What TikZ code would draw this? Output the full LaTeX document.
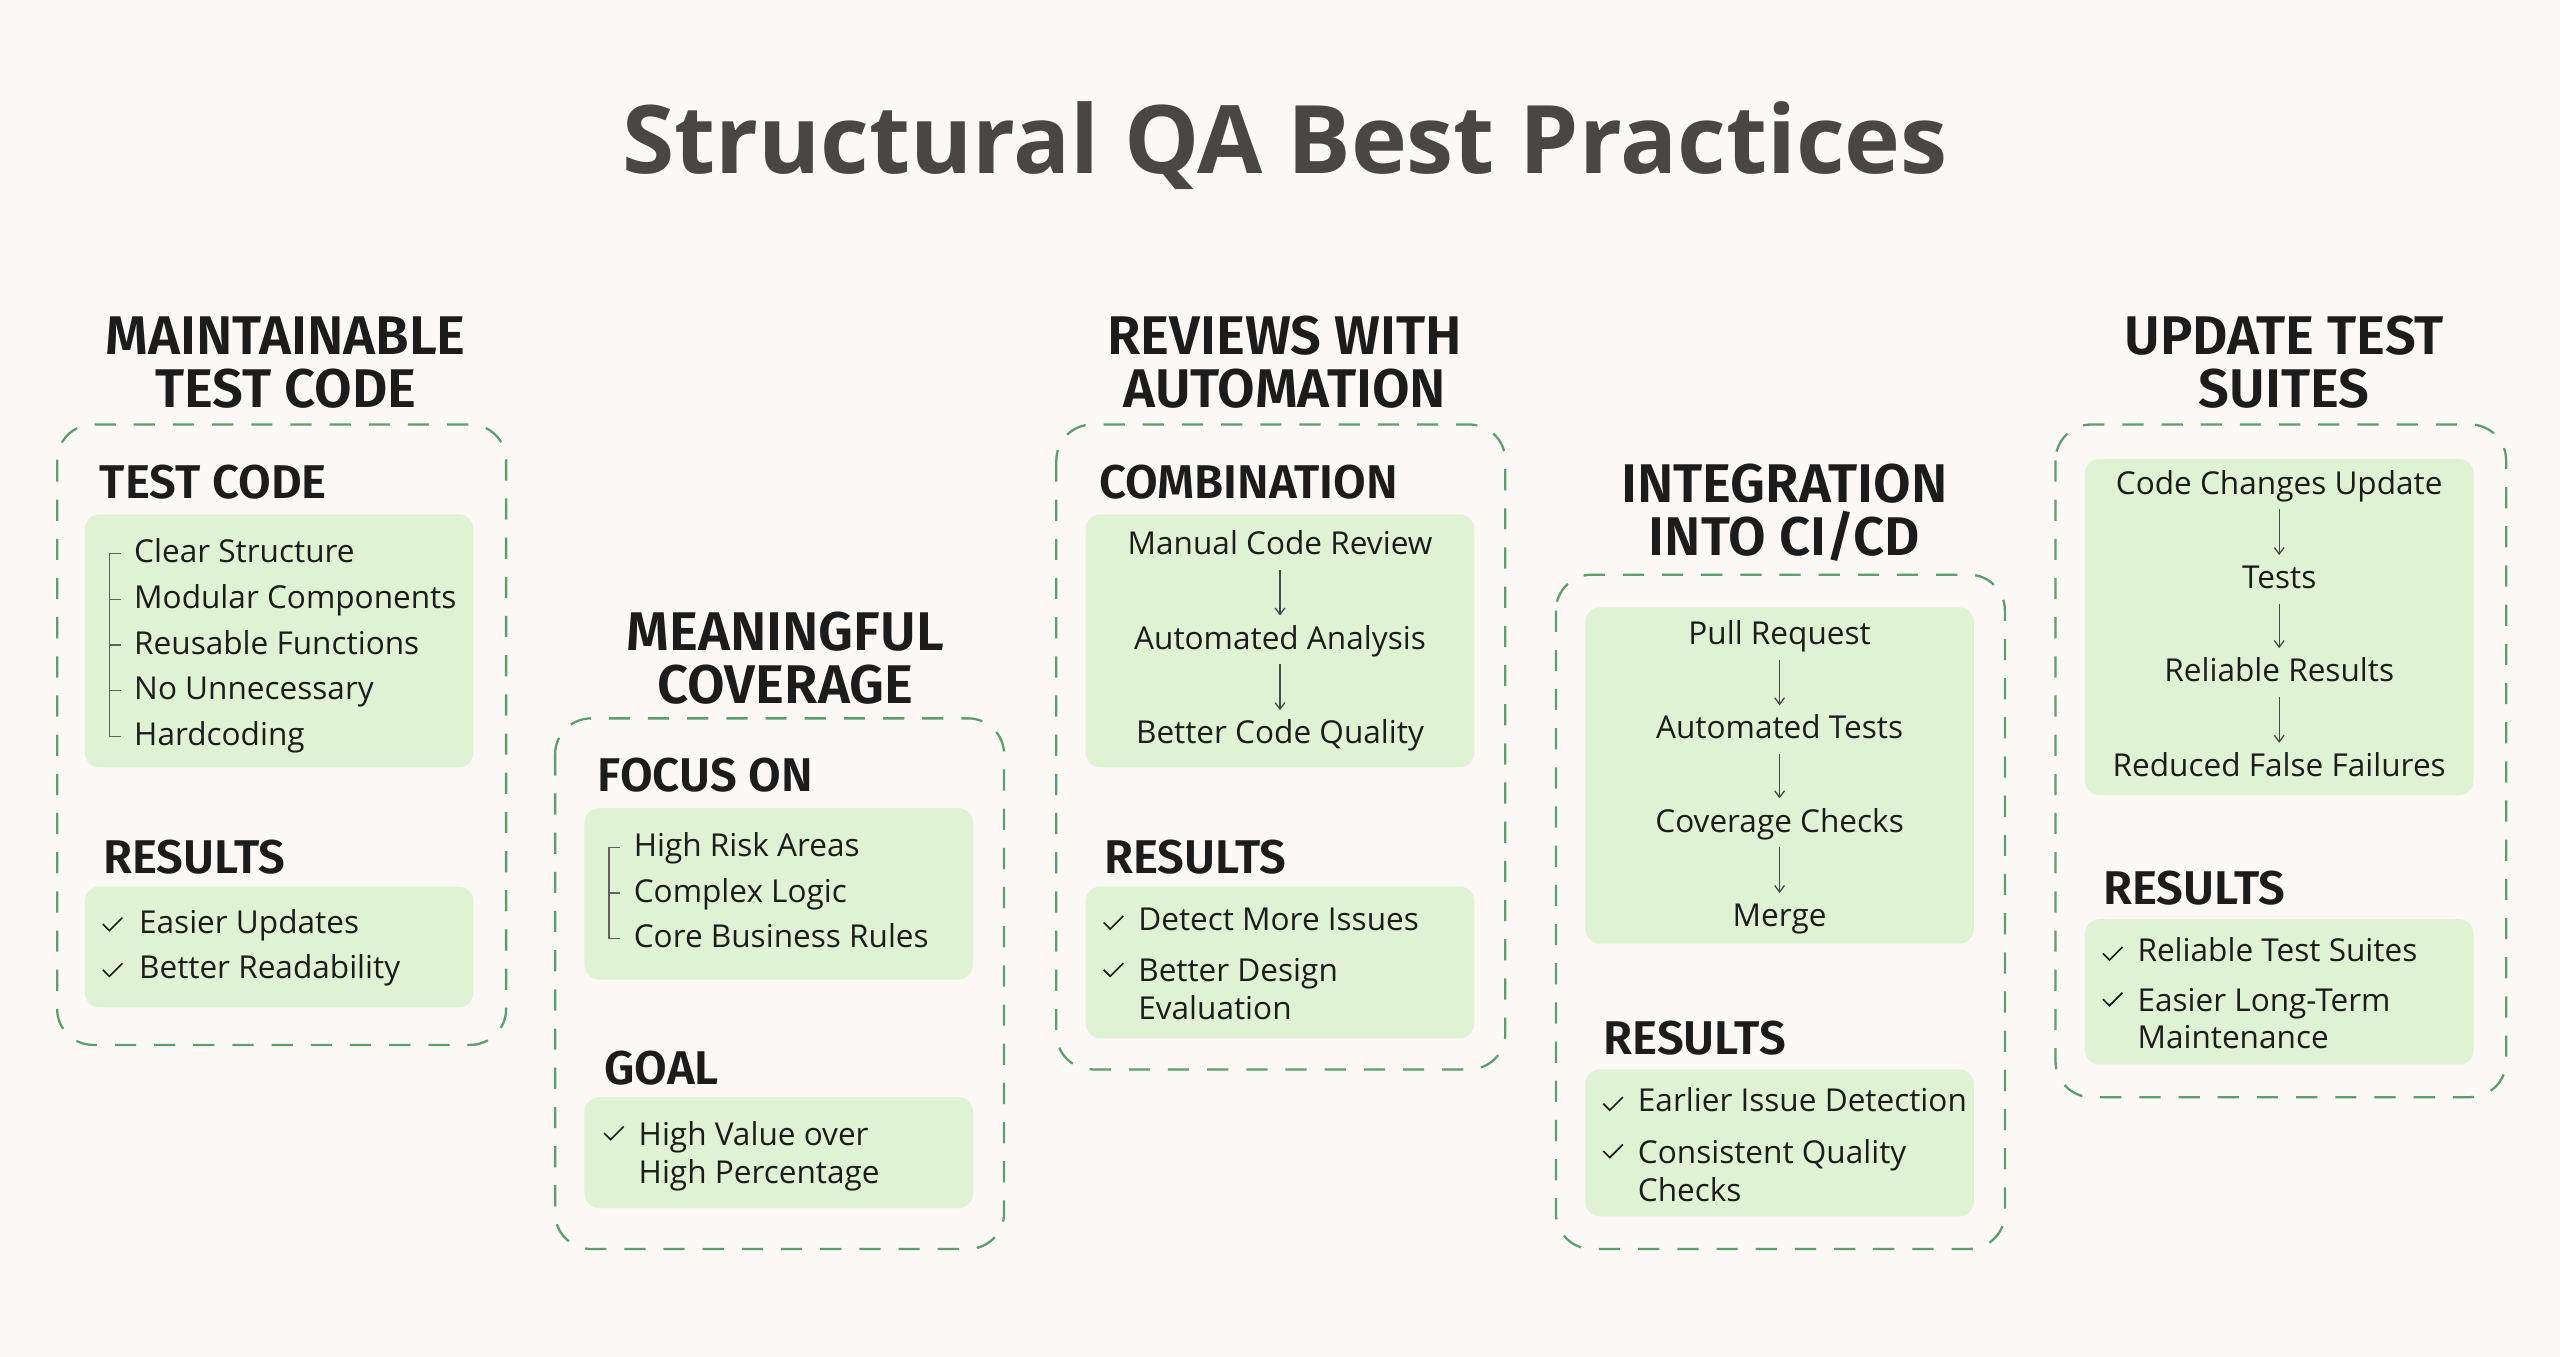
\documentclass[tikz,border=0pt]{standalone}
\usepackage{fontspec}
\setmainfont{Open Sans}
\newfontfamily\headfont{Fira Sans}[UprightFont=* SemiBold]
\usetikzlibrary{arrows.meta}
\definecolor{bg}{HTML}{FBF8F6}
\definecolor{gfill}{HTML}{DFF3D4}
\definecolor{dash}{HTML}{5E9E6C}
\definecolor{ink}{HTML}{1C1C1C}
\definecolor{ttl}{HTML}{4A4646}
\tikzset{
 dbox/.style={draw=dash,line width=0.028cm,dash pattern=on 0.26cm off 0.22cm,rounded corners=0.44cm},
 gbox/.style={fill=gfill,rounded corners=0.18cm},
 head/.style={font=\headfont\fontsize{19}{18.5}\selectfont,text=ink,align=center},
 sub/.style={font=\headfont\fontsize{16.5}{18}\selectfont,text=ink,anchor=west},
 item/.style={font=\fontsize{11}{13}\selectfont,text=ink,anchor=west,align=left},
 one/.style={text height=0.82em,text depth=0.18em},
 flow/.style={font=\fontsize{11}{13}\selectfont,text=ink,anchor=center,one},
 arr/.style={-{Straight Barb[length=0.08cm,width=0.12cm]},draw=ink!80,line width=0.016cm},
 chk/.style={draw=ink,line width=0.02cm},
 tree/.style={draw=ink!70,line width=0.016cm}
}
\newcommand{\ck}[2]{\draw[chk] (#1-6,#2) -- (#1-2,#2+4) -- (#1+6,#2-4);}
\begin{document}
\begin{tikzpicture}[x=0.02cm,y=-0.02cm]
\fill[bg] (0,0) rectangle (1568,831);
\useasboundingbox (0,0) rectangle (1568,831);
\node[font=\bfseries\fontsize{33}{36}\selectfont,text=ttl] (title) at (787,89) {Structural QA Best Practices};
% column 1
\draw[dbox] (35,260) rectangle (310,640);
\node[head] (h1) at (175,222) {MAINTAINABLE\\TEST CODE};
\node[sub] (s1) at (55,295) {TEST CODE};
\fill[gbox] (52,315) rectangle (290,470);
\foreach \t [count=\i] in {Clear Structure,Modular Components,Reusable Functions,No Unnecessary,Hardcoding}
 {\node[item,one] (c1i\i) at (76,311+28*\i) {\t}; \draw[tree] (67,311+28*\i) -- (74,311+28*\i);}
\draw[tree] (67,339) -- (67,451);
\node[sub] (r1) at (57,525) {RESULTS};
\fill[gbox] (52,543) rectangle (290,617);
\ck{69}{566}\node[item,one] (c1r1) at (79,566) {Easier Updates};
\ck{69}{594}\node[item,one] (c1r2) at (79,594) {Better Readability};
% column 2
\draw[dbox] (340,440) rectangle (615,765);
\node[head] (h2) at (481,403) {MEANINGFUL\\COVERAGE};
\node[sub] (s2) at (360,475) {FOCUS ON};
\fill[gbox] (358,495) rectangle (596,600);
\foreach \t [count=\i] in {High Risk Areas,Complex Logic,Core Business Rules}
 {\node[item,one] (c2i\i) at (382,491+28*\i) {\t}; \draw[tree] (373,491+28*\i) -- (380,491+28*\i);}
\draw[tree] (373,519) -- (373,575);
\node[sub] (g2) at (364,654) {GOAL};
\fill[gbox] (358,672) rectangle (596,740);
\ck{376}{694}\node[item,anchor=north west] (c2g) at (385,681) {High Value over\\High Percentage};
% column 3
\draw[dbox] (647,260) rectangle (922,655);
\node[head] (h3) at (787,222) {REVIEWS WITH\\AUTOMATION};
\node[sub] (s3) at (667,295) {COMBINATION};
\fill[gbox] (665,315) rectangle (903,470);
\node[flow] (f31) at (784,334) {Manual Code Review};
\node[flow] (f32) at (784,392) {Automated Analysis};
\node[flow] (f33) at (784,450) {Better Code Quality};
\draw[arr] (f31) -- (f32); \draw[arr] (f32) -- (f33);
\node[sub] (r3) at (670,525) {RESULTS};
\fill[gbox] (665,543) rectangle (903,636);
\ck{682}{565}\node[item,one] (c3r1) at (691,564) {Detect More Issues};
\ck{682}{594}\node[item,anchor=north west] (c3r2) at (691,581) {Better Design\\Evaluation};
% column 4
\draw[dbox] (953,352) rectangle (1228,765);
\node[head] (h4) at (1093,314) {INTEGRATION\\INTO CI/CD};
\fill[gbox] (971,372) rectangle (1209,578);
\node[flow] (f41) at (1090,389) {Pull Request};
\node[flow] (f42) at (1090,447) {Automated Tests};
\node[flow] (f43) at (1090,504) {Coverage Checks};
\node[flow] (f44) at (1090,562) {Merge};
\draw[arr] (f41) -- (f42); \draw[arr] (f42) -- (f43); \draw[arr] (f43) -- (f44);
\node[sub] (r4) at (976,636) {RESULTS};
\fill[gbox] (971,655) rectangle (1209,745);
\ck{988}{676}\node[item,one] (c4r1) at (997,675) {Earlier Issue Detection};
\ck{988}{705}\node[item,anchor=north west] (c4r2) at (997,692) {Consistent Quality\\Checks};
% column 5
\draw[dbox] (1259,260) rectangle (1535,672);
\node[head] (h5) at (1399,222) {UPDATE TEST\\SUITES};
\fill[gbox] (1277,281) rectangle (1515,487);
\node[flow] (f51) at (1396,297) {Code Changes Update};
\node[flow] (f52) at (1396,355) {Tests};
\node[flow] (f53) at (1396,412) {Reliable Results};
\node[flow] (f54) at (1396,470) {Reduced False Failures};
\draw[arr] (f51) -- (f52); \draw[arr] (f52) -- (f53); \draw[arr] (f53) -- (f54);
\node[sub] (r5) at (1282,544) {RESULTS};
\fill[gbox] (1277,563) rectangle (1515,652);
\ck{1294}{584}\node[item,one] (c5r1) at (1303,583) {Reliable Test Suites};
\ck{1294}{612}\node[item,anchor=north west] (c5r2) at (1303,599) {Easier Long-Term\\Maintenance};
\end{tikzpicture}
\end{document}
